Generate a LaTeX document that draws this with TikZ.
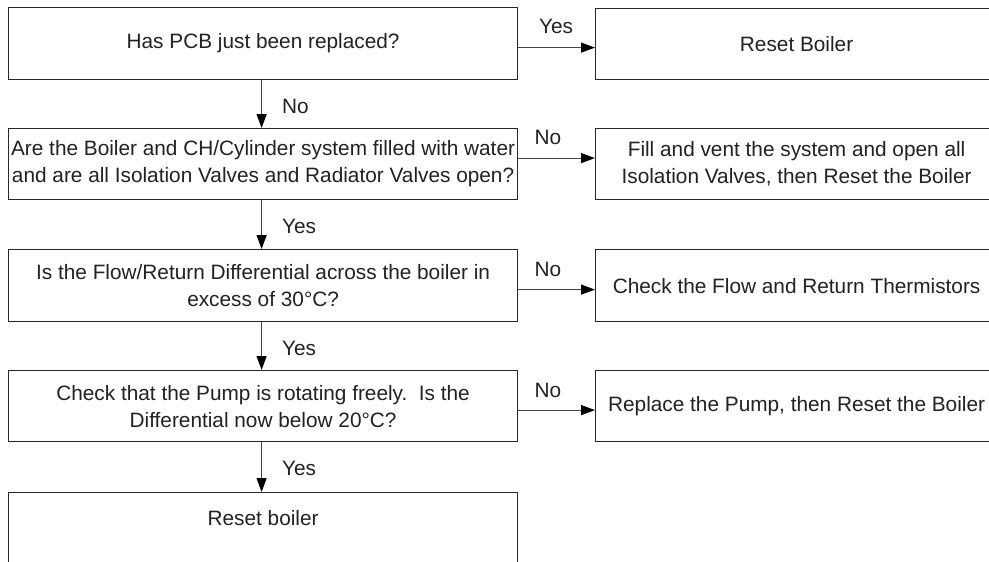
\documentclass[tikz,border=0pt]{standalone}
\usepackage{fontspec}
\setmainfont{Liberation Sans}
\usetikzlibrary{arrows.meta}
\definecolor{boxc}{RGB}{40,40,40}
\definecolor{linec}{RGB}{70,70,70}
\definecolor{txtc}{RGB}{34,34,34}
\begin{document}
\begin{tikzpicture}[x=1pt,y=-1pt,
  every node/.style={font=\fontsize{20.8}{27}\selectfont, text=txtc},
  lbox/.style={draw=boxc, line width=1.2pt, inner sep=0pt, anchor=north west,
    minimum width=509pt, align=center},
  rbox/.style={draw=boxc, line width=1.2pt, inner sep=0pt, anchor=north west,
    minimum width=402pt, align=center},
  arr/.style={draw=linec, line width=1.2pt,
    -{Triangle[length=14pt,width=10pt,fill=black,color=black]}},
  lbl/.style={anchor=base, inner sep=0pt},
  vlbl/.style={anchor=base west, inner sep=0pt}]
\useasboundingbox (0,0) rectangle (989,562);
\clip (0,0) rectangle (989,562);
\fill[white] (0,0) rectangle (989,562);
% left column
\node[lbox, minimum height=72pt] (L1) at (8,7) {Has PCB just been replaced?};
\node[lbox, minimum height=71pt] (L2) at (8,128) {Are the Boiler and CH/Cylinder system filled with water\\and are all Isolation Valves and Radiator Valves open?};
\node[lbox, minimum height=72pt] (L3) at (8,249) {Is the Flow/Return Differential across the boiler in\\excess of 30°C?};
\node[lbox, minimum height=71pt] (L4) at (8,370) {Check that the Pump is rotating freely.\ \ Is the\\Differential now below 20°C?};
\node[lbox, minimum height=72pt, text height=15pt, text depth=22pt] (L5) at (8,492) {Reset boiler};
% right column
\node[rbox, minimum height=71pt] (R1) at (595,8) {Reset Boiler};
\node[rbox, minimum height=71pt] (R2) at (595,128) {Fill and vent the system and open all\\Isolation Valves, then Reset the Boiler};
\node[rbox, minimum height=72pt] (R3) at (595,249) {Check the Flow and Return Thermistors};
\node[rbox, minimum height=71pt] (R4) at (595,370) {Replace the Pump, then Reset the Boiler};
% horizontal connectors
\draw[arr] ([yshift=-4pt]L1.east) -- ([yshift=-4pt]L1.east -| R1.west);
\draw[arr] ([yshift=6pt]L2.east) -- ([yshift=6pt]L2.east -| R2.west);
\draw[arr] ([yshift=-4pt]L3.east) -- ([yshift=-4pt]L3.east -| R3.west);
\draw[arr] ([yshift=-4pt]L4.east) -- ([yshift=-4pt]L4.east -| R4.west);
% vertical connectors
\draw[arr] ([xshift=-1.5pt]L1.south) -- ([xshift=-1.5pt]L2.north);
\draw[arr] ([xshift=-1.5pt]L2.south) -- ([xshift=-1.5pt]L3.north);
\draw[arr] ([xshift=-1.5pt]L3.south) -- ([xshift=-1.5pt]L4.north);
\draw[arr] ([xshift=-1.5pt]L4.south) -- ([xshift=-1.5pt]L5.north);
% labels
\node[lbl] (y1) at (556,33) {Yes};
\node[lbl] (n2) at (548,144) {No};
\node[lbl] (n3) at (548,276) {No};
\node[lbl] (n4) at (548,397) {No};
\node[vlbl] (v1) at (282,113) {No};
\node[vlbl] (v2) at (282,233) {Yes};
\node[vlbl] (v3) at (282,355) {Yes};
\node[vlbl] (v4) at (282,475) {Yes};
\end{tikzpicture}
\end{document}
